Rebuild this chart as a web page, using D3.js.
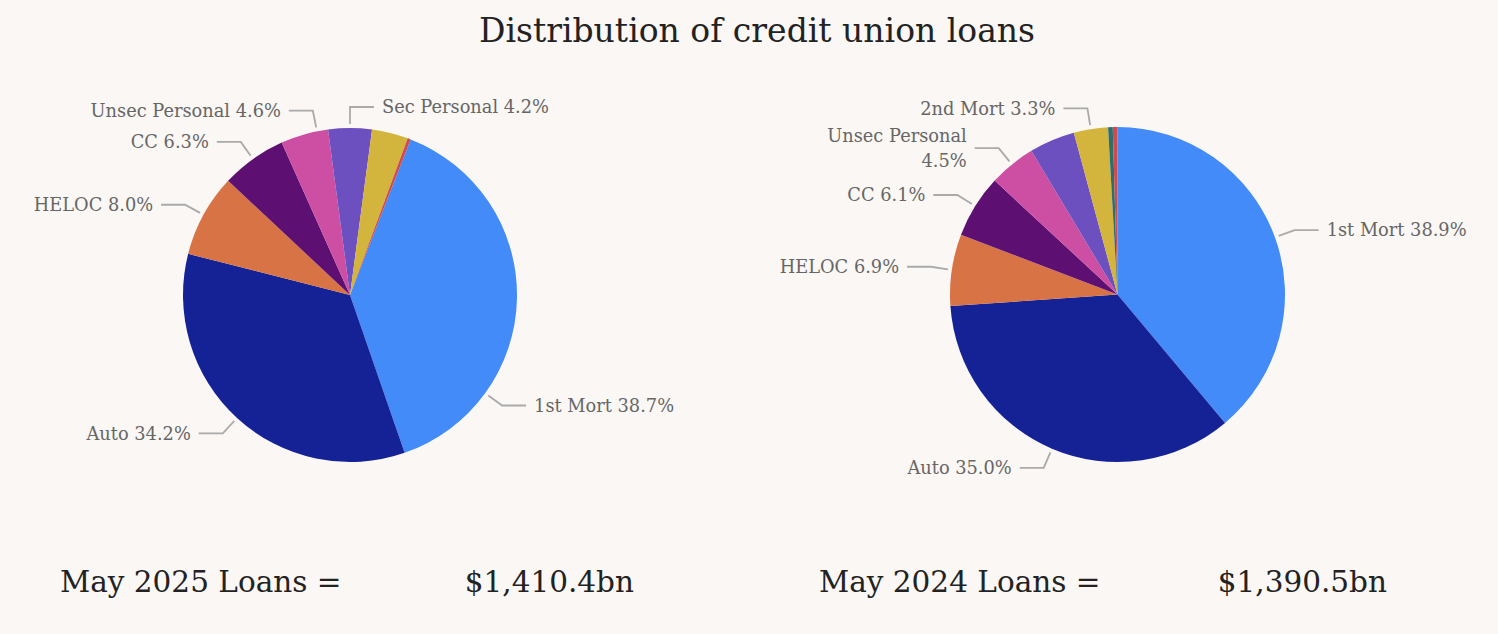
<!DOCTYPE html>
<html>
<head>
<meta charset="utf-8">
<script src="https://cdn.jsdelivr.net/npm/d3@7"></script>
<style>
  html, body { margin: 0; padding: 0; background: #faf7f4; }
  svg { display: block; }
</style>
</head>
<body>
<svg id="chart" width="1498" height="634"></svg>
<script>
// ---- DATA ----
const categories = ["1st Mort", "Auto", "HELOC", "CC", "Unsec Personal", "Sec Personal", "2nd Mort", "Other Real Estate", "Other"];
const valuesMay2025 = [38.7, 34.2, 8.0, 6.3, 4.6, 4.2, 3.5, 0.0, 0.3];
const valuesMay2024 = [38.9, 35.0, 6.9, 6.1, 4.5, 4.4, 3.3, 0.45, 0.45];
const labelsMay2025 = ["1st Mort 38.7%", "Auto 34.2%", "HELOC 8.0%", "CC 6.3%", "Unsec Personal 4.6%", "Sec Personal 4.2%", null, null, null];
const labelsMay2024 = ["1st Mort 38.9%", "Auto 35.0%", "HELOC 6.9%", "CC 6.1%", "Unsec Personal|4.5%", null, "2nd Mort 3.3%", null, null];
const totalLabels = ["May 2025 Loans =", "May 2024 Loans ="];
const totalValues = ["$1,410.4bn", "$1,390.5bn"];
const title = "Distribution of credit union loans";

// ---- STYLE / LAYOUT ----
const colors = ["#428bf8", "#152296", "#d87345", "#5e0f72", "#cd4fa3", "#6c50bf", "#d3b43c", "#2e6e6f", "#cf4b4b"];
const serif = "Georgia, 'DejaVu Serif', serif";
const pies = [
  { values: valuesMay2025, labels: labelsMay2025, cx: 350, cy: 295, r: 167, startDeg: 21.3,
    angleOverride: { 0: 126, 4: -11.4, 5: 0 } },
  { values: valuesMay2024, labels: labelsMay2024, cx: 1117.5, cy: 294.5, r: 167.5, startDeg: 0,
    angleOverride: {} }
];

const svg = d3.select("#chart");
const color = d3.scaleOrdinal().domain(categories).range(colors);

svg.append("text")
  .attr("x", 757).attr("y", 42)
  .attr("text-anchor", "middle")
  .attr("font-family", serif)
  .attr("font-size", 33)
  .attr("fill", "#222")
  .text(title);

pies.forEach((p, pi) => {
  const rad = Math.PI / 180;
  const pie = d3.pie().sort(null).value(d => d.v)
    .startAngle(p.startDeg * rad).endAngle(p.startDeg * rad + 2 * Math.PI);
  const data = categories.map((c, i) => ({ c, v: p.values[i], label: p.labels[i], i }));
  const arcs = pie(data);
  const arc = d3.arc().innerRadius(0).outerRadius(p.r);
  const g = svg.append("g").attr("transform", `translate(${p.cx},${p.cy})`);

  g.selectAll("path.slice").data(arcs).join("path")
    .attr("class", "slice")
    .attr("d", arc)
    .attr("fill", d => color(d.data.c));

  const pt = (ang, rr) => [Math.sin(ang) * rr, -Math.cos(ang) * rr];
  const labelled = arcs.filter(d => d.data.label);
  labelled.forEach(d => {
    const ov = p.angleOverride[d.data.i];
    const ang = ov !== undefined ? ov * rad : (d.startAngle + d.endAngle) / 2;
    const right = Math.sin(ang) >= -1e-9;
    const p1 = pt(ang, p.r + 4);
    const p2 = pt(ang, p.r + 21);
    const p3 = [p2[0] + (right ? 24 : -24), p2[1]];
    g.append("path")
      .attr("d", d3.line()([p1, p2, p3]))
      .attr("fill", "none")
      .attr("stroke", "#aaa")
      .attr("stroke-width", 1.8);
    const lines = d.data.label.split("|");
    const lh = 25;
    const t = g.append("text")
      .attr("x", p3[0] + (right ? 8 : -8))
      .attr("y", p3[1])
      .attr("text-anchor", right ? "start" : "end")
      .attr("font-family", serif)
      .attr("font-size", 17.8)
      .attr("fill", "#666");
    lines.forEach((ln, k) => {
      t.append("tspan")
        .attr("x", p3[0] + (right ? 8 : -8))
        .attr("y", p3[1] + (k - (lines.length - 1) / 2) * lh)
        .attr("dy", "0.35em")
        .text(ln);
    });
  });
});

const totalX = [[60, 634], [819, 1387]];
totalLabels.forEach((t, i) => {
  svg.append("text")
    .attr("x", totalX[i][0]).attr("y", 592)
    .attr("font-family", serif).attr("font-size", 29.5).attr("fill", "#222")
    .text(t);
  svg.append("text")
    .attr("x", totalX[i][1]).attr("y", 592)
    .attr("text-anchor", "end")
    .attr("font-family", serif).attr("font-size", 29.5).attr("fill", "#222")
    .text(totalValues[i]);
});
</script>
</body>
</html>
